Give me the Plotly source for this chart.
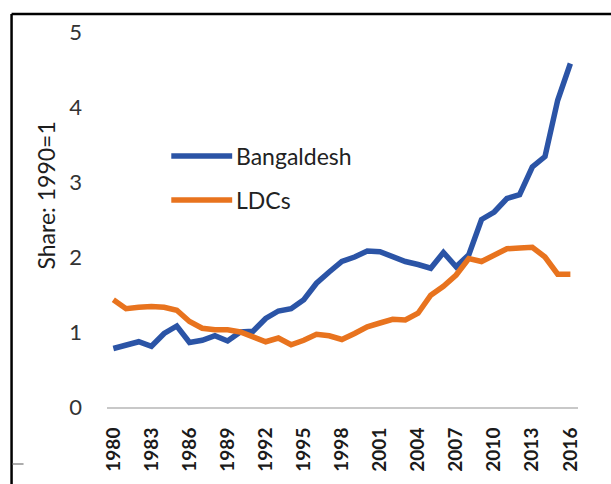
import plotly.graph_objects as go

# Export share index (1990 = 1)
years = list(range(1980, 2017))
bangladesh = [0.78, 0.83, 0.87, 0.81, 0.98, 1.08, 0.86, 0.89, 0.95, 0.88,
              1.00, 1.01, 1.18, 1.28, 1.31, 1.43, 1.65, 1.80, 1.94, 2.00,
              2.08, 2.07, 2.00, 1.94, 1.90, 1.85, 2.06, 1.87, 2.03, 2.50,
              2.60, 2.78, 2.83, 3.20, 3.34, 4.09, 4.58]
ldcs = [1.43, 1.31, 1.33, 1.34, 1.33, 1.29, 1.14, 1.05, 1.03, 1.03,
        1.00, 0.94, 0.87, 0.92, 0.83, 0.89, 0.97, 0.95, 0.90, 0.98,
        1.07, 1.12, 1.17, 1.16, 1.25, 1.49, 1.61, 1.76, 1.98, 1.94,
        2.03, 2.11, 2.12, 2.13, 2.00, 1.77, 1.77]
x_ticks = list(range(1980, 2017, 3))
y_ticks = [0, 1, 2, 3, 4, 5]

series_names = ["Bangaldesh", "LDCs"]
series_colors = ["#2B54A6", "#E8731E"]

W, H = 611, 484
L, R, T, B = 106.6, 32.6, 32, 77
pw, ph = W - L - R, H - T - B

def px_x(p):
    return (p - L) / pw

def px_y(p):
    return (H - B - p) / ph

fig = go.Figure()
for name, vals, col in zip(series_names, [bangladesh, ldcs], series_colors):
    fig.add_trace(go.Scatter(x=years, y=vals, mode="lines", name=name,
                             line=dict(color=col, width=5.5)))

font = "Lato, 'Open Sans', sans-serif"

shapes = [
    # frame lines (top and left)
    dict(type="line", xref="paper", yref="paper", x0=px_x(11), x1=px_x(W + 5),
         y0=px_y(14), y1=px_y(14), line=dict(color="#000000", width=2.5)),
    dict(type="line", xref="paper", yref="paper", x0=px_x(11), x1=px_x(11),
         y0=px_y(14), y1=px_y(H + 5), line=dict(color="#000000", width=2.5)),
    dict(type="line", xref="paper", yref="paper", x0=px_x(12), x1=px_x(23),
         y0=px_y(464), y1=px_y(464), line=dict(color="#909090", width=1.5)),
]
annotations = [
    dict(text="Share: 1990=1", textangle=-90, xref="paper", yref="paper",
         x=px_x(45), y=px_y(196), xanchor="center", yanchor="middle",
         showarrow=False,
         font=dict(family=font, size=23, color="#1e1e1e")),
]
# legend swatches and labels
for i, (name, col) in enumerate(zip(series_names, series_colors)):
    yp = px_y(156 + 44 * i)
    shapes.append(dict(type="line", xref="paper", yref="paper",
                       x0=px_x(171), x1=px_x(232), y0=yp, y1=yp,
                       line=dict(color=col, width=5.5)))
    annotations.append(dict(text=name, xref="paper", yref="paper",
                            x=px_x(234), y=yp, xanchor="left", yanchor="middle",
                            showarrow=False,
                            font=dict(family=font, size=23, color="#222222")))

fig.update_layout(
    width=W, height=H,
    margin=dict(l=L, r=R, t=T, b=B, pad=0, autoexpand=False),
    paper_bgcolor="white", plot_bgcolor="white",
    showlegend=False,
    shapes=shapes, annotations=annotations,
    xaxis=dict(range=[1979.5, 2016.6], tickvals=x_ticks,
               ticktext=[str(v) for v in x_ticks], tickangle=-90,
               showgrid=False, zeroline=False, showline=True, automargin=False,
               linecolor="#C8C8C8", linewidth=2, ticks="",
               ticklabelstandoff=11,
               tickfont=dict(family=font, size=19, color="#1a1a1a", weight="bold")),
    yaxis=dict(range=[0, 5], tickvals=y_ticks, showgrid=False, zeroline=False,
               showline=False, ticks="", ticklabelstandoff=24, automargin=False,
               tickfont=dict(family=font, size=22, color="#333333")),
)

fig.write_html("out.html")
